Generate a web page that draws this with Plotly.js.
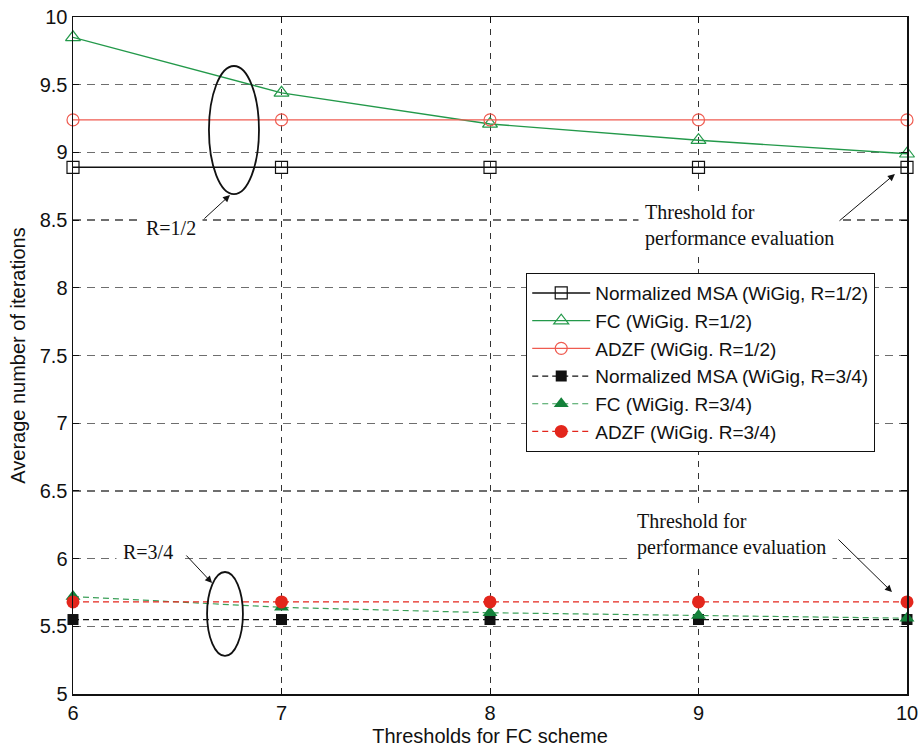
<!DOCTYPE html>
<html>
<head>
<meta charset="utf-8">
<script src="https://cdn.plot.ly/plotly-3.0.1.min.js"></script>
<style>
  html, body { margin: 0; padding: 0; background: #fff; }
  #chart { width: 921px; height: 752px; }
</style>
</head>
<body>
<div id="chart"></div>
<script>
// Thresholds of the FC scheme (x axis)
const thresholds = [6, 7, 8, 9, 10];

// Average number of iterations, code rate R = 1/2
const msaHalf  = [8.89, 8.89, 8.89, 8.89, 8.89];
const fcHalf   = [9.85, 9.44, 9.21, 9.09, 8.99];
const adzfHalf = [9.24, 9.24, 9.24, 9.24, 9.24];

// Average number of iterations, code rate R = 3/4
const msaThreeQ  = [5.55, 5.55, 5.55, 5.55, 5.55];
const fcThreeQ   = [5.72, 5.64, 5.60, 5.58, 5.56];
const adzfThreeQ = [5.68, 5.68, 5.68, 5.68, 5.68];

const seriesNames = [
  'Normalized MSA (WiGig, R=1/2)',
  'FC (WiGig. R=1/2)',
  'ADZF (WiGig. R=1/2)',
  'Normalized MSA (WiGig, R=3/4)',
  'FC (WiGig. R=3/4)',
  'ADZF (WiGig. R=3/4)'
];

const BLACK = '#111111';
const GREEN = '#23994a';
const RED = '#ef5b50';
const GREEN_FILL = '#14813a';
const RED_FILL = '#e3261c';
const DASH = '6px,4px';

const traces = [
  { y: msaHalf, name: seriesNames[0],
    line: { color: BLACK, width: 1.4 },
    marker: { symbol: 'square-open', size: 12, color: BLACK, line: { width: 1.2 } } },
  { y: fcHalf, name: seriesNames[1],
    line: { color: GREEN, width: 1.4 },
    marker: { symbol: 'triangle-up-open', size: 13, color: GREEN, line: { width: 1.2 } } },
  { y: adzfHalf, name: seriesNames[2],
    line: { color: RED, width: 1.4 },
    marker: { symbol: 'circle-open', size: 12, color: RED, line: { width: 1.2 } } },
  { y: msaThreeQ, name: seriesNames[3],
    line: { color: BLACK, width: 1.2, dash: DASH },
    marker: { symbol: 'square', size: 11, color: BLACK } },
  { y: fcThreeQ, name: seriesNames[4],
    line: { color: '#3da05a', width: 1.2, dash: DASH },
    marker: { symbol: 'triangle-up', size: 13, color: GREEN_FILL } },
  { y: adzfThreeQ, name: seriesNames[5],
    line: { color: RED_FILL, width: 1.2, dash: DASH },
    marker: { symbol: 'circle', size: 13, color: RED_FILL } }
].map(t => Object.assign({ x: thresholds, type: 'scatter', mode: 'lines+markers', cliponaxis: false }, t));

const serif = 'Liberation Serif, Times New Roman, serif';
const sans = 'Liberation Sans, Arial, sans-serif';

// Rate labels and threshold notes
const textNotes = [
  { x: 6.47, y: 8.44, text: 'R=1/2' },
  { x: 6.36, y: 6.05, text: 'R=3/4' },
  { x: 8.71, y: 8.46, text: 'Threshold for<br>performance evaluation', xanchor: 'left', align: 'left' },
  { x: 8.67, y: 6.18, text: 'Threshold for<br>performance evaluation', xanchor: 'left', align: 'left' }
].map(a => Object.assign({
  xref: 'x', yref: 'y', showarrow: false, bgcolor: '#ffffff', borderpad: 6,
  font: { family: serif, size: 20, color: '#111' }
}, a));

// Arrows: head at (x, y), tail at (ax, ay)
const arrows = [
  { x: 6.753, y: 8.685, ax: 6.623, ay: 8.501 },
  { x: 9.942, y: 8.840, ax: 9.669, ay: 8.486 },
  { x: 6.667, y: 5.820, ax: 6.537, ay: 6.034 },
  { x: 9.928, y: 5.753, ax: 9.664, ay: 6.152 }
].map(a => Object.assign({
  xref: 'x', yref: 'y', axref: 'x', ayref: 'y', text: '', showarrow: true,
  arrowhead: 2, arrowsize: 1.4, arrowwidth: 1, arrowcolor: '#111'
}, a));

// Ellipses grouping the curves of each code rate
const shapes = [
  { type: 'circle', xref: 'x', yref: 'y', x0: 6.652, x1: 6.892, y0: 8.692, y1: 9.638,
    line: { color: '#111', width: 1.8 } },
  { type: 'circle', xref: 'x', yref: 'y', x0: 6.643, x1: 6.815, y0: 5.281, y1: 5.901,
    line: { color: '#111', width: 1.8 } }
];

const layout = {
  width: 921, height: 752,
  margin: { l: 73, r: 14, t: 17, b: 58 },
  paper_bgcolor: '#ffffff', plot_bgcolor: '#ffffff',
  font: { family: sans, size: 20, color: '#111' },
  showlegend: true,
  legend: {
    x: 0.5432, y: 0.622, xanchor: 'left', yanchor: 'top',
    bgcolor: '#ffffff', bordercolor: '#111', borderwidth: 1.2,
    font: { family: sans, size: 19, color: '#111' },
    itemwidth: 58, tracegroupgap: 0
  },
  xaxis: {
    range: [6, 10], dtick: 1, tick0: 6,
    showline: true, linecolor: '#111', linewidth: 1.5, mirror: 'ticks',
    ticks: 'inside', ticklen: 6, tickcolor: '#111',
    showgrid: true, gridcolor: '#333', gridwidth: 1, griddash: '6px,6px',
    zeroline: false,
    title: { text: 'Thresholds for FC scheme', font: { family: sans, size: 20 }, standoff: 6 },
    tickfont: { family: sans, size: 20 }
  },
  yaxis: {
    range: [5, 10], dtick: 0.5, tick0: 5,
    showline: true, linecolor: '#111', linewidth: 1.5, mirror: 'ticks',
    ticks: 'inside', ticklen: 6, tickcolor: '#111',
    showgrid: true, gridcolor: '#6e6e6e', gridwidth: 1.4, griddash: '8px,6px',
    zeroline: false,
    title: { text: 'Average number of iterations', font: { family: sans, size: 20 }, standoff: 8 },
    tickfont: { family: sans, size: 20 }
  },
  shapes: shapes,
  annotations: textNotes.concat(arrows)
};

Plotly.newPlot('chart', traces, layout, { displayModeBar: false, staticPlot: true });
</script>
</body>
</html>
